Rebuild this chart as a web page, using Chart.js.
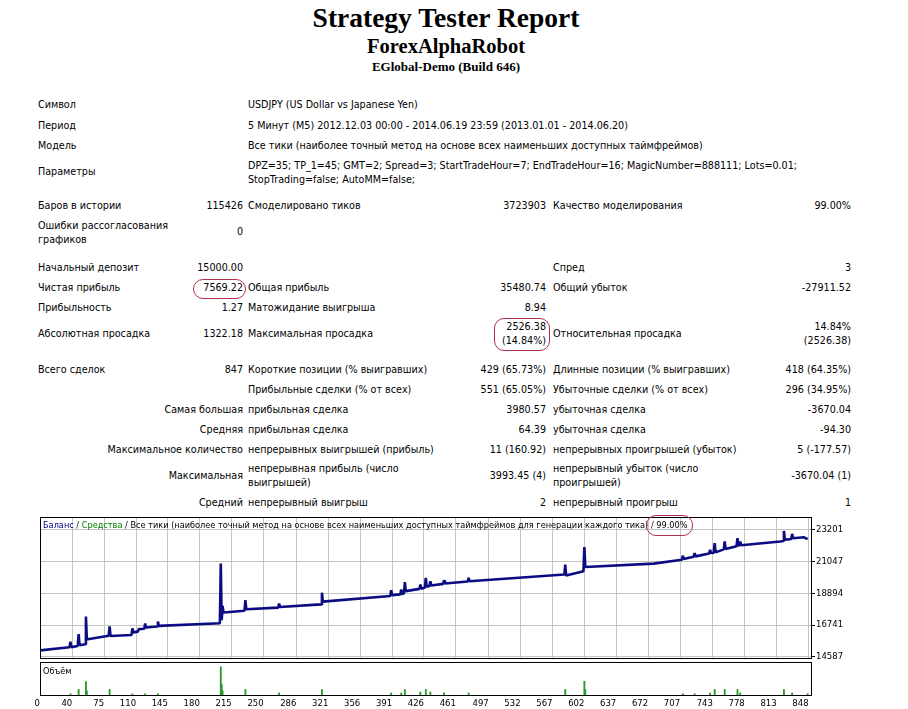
<!DOCTYPE html>
<html>
<head>
<meta charset="utf-8">
<title>Strategy Tester Report</title>
<script src="https://cdn.jsdelivr.net/npm/chart.js@4.4.0/dist/chart.umd.min.js"></script>
<style>
  html, body { margin: 0; padding: 0; background: #fff; overflow: hidden; }
  #page { position: relative; width: 908px; height: 709px; font-family: "DejaVu Sans", sans-serif; font-size: 9.6px; color: #000; }
  .hd { position: absolute; left: 0; width: 892px; text-align: center; font-family: "Liberation Serif", serif; font-weight: bold; white-space: nowrap; }
  .c { position: absolute; line-height: 14px; white-space: nowrap; }
  .l1 { left: 38px; }
  .r2 { right: 665px; text-align: right; }
  .l3 { left: 248px; }
  .r4 { right: 362px; text-align: right; }
  .l5 { left: 553px; }
  .r6 { right: 57px; text-align: right; }
  .oval { position: absolute; border: 1px solid #b0304a; border-radius: 10px; z-index: 5; }
  .wrap { position: absolute; left: 0; width: 908px; }
  #caption { position: absolute; left: 43px; top: 519px; font-size: 8.2px; line-height: 12px; white-space: nowrap; z-index: 4; }
  #volLabel { position: absolute; left: 43px; top: 665px; font-size: 8.2px; line-height: 12px; z-index: 4; }
</style>
</head>
<body>
<div id="page">
  <div class="hd" style="top:1px;font-size:27.5px;line-height:34px">Strategy Tester Report</div>
  <div class="hd" style="top:34px;font-size:20.5px;line-height:24px">ForexAlphaRobot</div>
  <div class="hd" style="top:59px;font-size:13px;line-height:16px">EGlobal-Demo (Build 646)</div>

  <div class="c l1" style="top:98px">Символ</div>
  <div class="c l3" style="top:98px">USDJPY (US Dollar vs Japanese Yen)</div>
  <div class="c l1" style="top:119px">Период</div>
  <div class="c l3" style="top:119px">5 Минут (M5) 2012.12.03 00:00 - 2014.06.19 23:59 (2013.01.01 - 2014.06.20)</div>
  <div class="c l1" style="top:139px">Модель</div>
  <div class="c l3" style="top:139px">Все тики (наиболее точный метод на основе всех наименьших доступных таймфреймов)</div>
  <div class="c l1" style="top:165px">Параметры</div>
  <div class="c l3" style="top:159px">DPZ=35; TP_1=45; GMT=2; Spread=3; StartTradeHour=7; EndTradeHour=16; MagicNumber=888111; Lots=0.01;<br>StopTrading=false; AutoMM=false;</div>

  <div class="c l1" style="top:199px">Баров в истории</div>
  <div class="c r2" style="top:199px">115426</div>
  <div class="c l3" style="top:199px">Смоделировано тиков</div>
  <div class="c r4" style="top:199px">3723903</div>
  <div class="c l5" style="top:199px">Качество моделирования</div>
  <div class="c r6" style="top:199px">99.00%</div>

  <div class="c l1" style="top:219px">Ошибки рассогласования<br>графиков</div>
  <div class="c r2" style="top:225px">0</div>

  <div class="c l1" style="top:261px">Начальный депозит</div>
  <div class="c r2" style="top:261px">15000.00</div>
  <div class="c l5" style="top:261px">Спред</div>
  <div class="c r6" style="top:261px">3</div>

  <div class="c l1" style="top:281px">Чистая прибыль</div>
  <div class="c r2" style="top:281px">7569.22</div>
  <div class="c l3" style="top:281px">Общая прибыль</div>
  <div class="c r4" style="top:281px">35480.74</div>
  <div class="c l5" style="top:281px">Общий убыток</div>
  <div class="c r6" style="top:281px">-27911.52</div>

  <div class="c l1" style="top:301px">Прибыльность</div>
  <div class="c r2" style="top:301px">1.27</div>
  <div class="c l3" style="top:301px">Матожидание выигрыша</div>
  <div class="c r4" style="top:301px">8.94</div>

  <div class="c l1" style="top:327px">Абсолютная просадка</div>
  <div class="c r2" style="top:327px">1322.18</div>
  <div class="c l3" style="top:327px">Максимальная просадка</div>
  <div class="c r4" style="top:320px">2526.38<br>(14.84%)</div>
  <div class="c l5" style="top:327px">Относительная просадка</div>
  <div class="c r6" style="top:320px">14.84%<br>(2526.38)</div>

  <div class="c l1" style="top:363px">Всего сделок</div>
  <div class="c r2" style="top:363px">847</div>
  <div class="c l3" style="top:363px">Короткие позиции (% выигравших)</div>
  <div class="c r4" style="top:363px">429 (65.73%)</div>
  <div class="c l5" style="top:363px">Длинные позиции (% выигравших)</div>
  <div class="c r6" style="top:363px">418 (64.35%)</div>

  <div class="c l3" style="top:383px">Прибыльные сделки (% от всех)</div>
  <div class="c r4" style="top:383px">551 (65.05%)</div>
  <div class="c l5" style="top:383px">Убыточные сделки (% от всех)</div>
  <div class="c r6" style="top:383px">296 (34.95%)</div>

  <div class="c r2" style="top:403px">Самая большая</div>
  <div class="c l3" style="top:403px">прибыльная сделка</div>
  <div class="c r4" style="top:403px">3980.57</div>
  <div class="c l5" style="top:403px">убыточная сделка</div>
  <div class="c r6" style="top:403px">-3670.04</div>

  <div class="c r2" style="top:423px">Средняя</div>
  <div class="c l3" style="top:423px">прибыльная сделка</div>
  <div class="c r4" style="top:423px">64.39</div>
  <div class="c l5" style="top:423px">убыточная сделка</div>
  <div class="c r6" style="top:423px">-94.30</div>

  <div class="c r2" style="top:443px">Максимальное количество</div>
  <div class="c l3" style="top:443px">непрерывных выигрышей (прибыль)</div>
  <div class="c r4" style="top:443px">11 (160.92)</div>
  <div class="c l5" style="top:443px">непрерывных проигрышей (убыток)</div>
  <div class="c r6" style="top:443px">5 (-177.57)</div>

  <div class="c r2" style="top:469px">Максимальная</div>
  <div class="c l3" style="top:462px">непрерывная прибыль (число<br>выигрышей)</div>
  <div class="c r4" style="top:469px">3993.45 (4)</div>
  <div class="c l5" style="top:462px">непрерывный убыток (число<br>проигрышей)</div>
  <div class="c r6" style="top:469px">-3670.04 (1)</div>

  <div class="c r2" style="top:496px">Средний</div>
  <div class="c l3" style="top:496px">непрерывный выигрыш</div>
  <div class="c r4" style="top:496px">2</div>
  <div class="c l5" style="top:496px">непрерывный проигрыш</div>
  <div class="c r6" style="top:496px">1</div>

  <div class="oval" style="left:193px;top:279px;width:51px;height:18px"></div>
  <div class="oval" style="left:494px;top:318px;width:54px;height:31px"></div>

  <div class="wrap" style="top:505px;height:160px"><canvas id="balanceChart"></canvas></div>
  <div class="wrap" style="top:660px;height:49px"><canvas id="volumeChart"></canvas></div>

  <div id="caption"><span style="color:#000080">Баланс</span> / <span style="color:#008000">Средства</span> / Все тики (наиболее точный метод на основе всех наименьших доступных таймфреймов для генерации каждого тика) / 99.00%</div>
  <div class="oval" style="left:646px;top:515px;width:45px;height:19px"></div>
  <div id="volLabel">Объём</div>
</div>

<script>
// balance after each trade
var tradeNo = [0, 37, 38, 39, 46, 47, 48, 54, 55, 56, 57, 80, 81, 82, 105, 106, 107, 112, 113, 119, 120, 121,
  133, 134, 135, 202, 203, 204, 205, 206, 229, 230, 231, 266, 267, 268, 313, 314, 315, 389, 390, 391,
  400, 401, 402, 404, 405, 406, 421, 422, 423, 427, 428, 429, 432, 433, 434, 447, 448, 449, 474, 475, 476,
  553, 580, 581, 582, 601, 602, 603, 678, 709, 710, 711, 722, 723, 724, 739, 740, 741, 744, 745, 746,
  755, 756, 757, 769, 770, 771, 772, 773, 774, 817, 820, 821, 822, 829, 830, 831, 843, 847];
var balance = [15000, 15240, 15617, 15250, 15330, 16135, 15380, 15450, 17326, 15800, 15780, 16020, 16652, 16000,
  16070, 16520, 16250, 16300, 16470, 16500, 16855, 16585, 16650, 16990, 16694, 16875, 20913, 17077, 18040, 17595,
  17720, 18445, 17817, 17930, 18200, 17970, 18150, 18940, 18336, 18713, 19117, 18780, 18827, 19163, 18840,
  18900, 19655, 19050, 19200, 19500, 19210, 19300, 19950, 19345, 19400, 19720, 19430, 19540, 19790, 19567,
  19700, 19950, 19720, 20060, 20173, 20846, 20105, 20395, 22037, 20690, 20913, 21182, 21450, 21230, 21380,
  21630, 21405, 21600, 21855, 21630, 21650, 22305, 21675, 21880, 22415, 21900, 22100, 22640, 22125, 22150,
  22415, 22160, 22415, 22450, 23134, 22528, 22580, 22932, 22640, 22700, 22569];

// volume bars
var volTrade = [38, 47, 55, 56, 81, 106, 120, 134, 203, 204, 205, 230, 267, 314, 390, 401, 405, 422, 428, 433,
  448, 475, 581, 602, 603, 710, 723, 740, 745, 756, 770, 773, 821, 830, 847];
var volume = [0.5, 1.5, 3.3, 1.2, 1.5, 0.5, 0.5, 0.5, 6.7, 2.7, 1.2, 1.5, 0.7, 1.5, 0.7, 0.7, 1.5, 0.9, 1.5, 0.9,
  0.7, 0.7, 1.5, 3.4, 1.5, 0.5, 0.5, 0.7, 1.5, 1.5, 1.5, 0.7, 1.5, 0.7, 0.5];

var yTickValues = [14587, 16741, 18894, 21047, 23201];
var xTickLabels = ['0', '40', '75', '110', '145', '180', '215', '250', '286', '321', '356', '391', '426',
  '461', '497', '532', '567', '602', '637', '672', '707', '743', '778', '813', '848'];

var X_MIN = 4.6, X_MAX = 851.8;
var Y_MIN = 14452, Y_MAX = 24076;
var chartFont = { family: 'DejaVu Sans', size: 8.5 };

// black box round the plot area, like the tester window
var frame = {
  id: 'frame',
  afterDraw: function (chart) {
    var a = chart.chartArea, c = chart.ctx;
    c.save();
    c.strokeStyle = '#000';
    c.lineWidth = 1;
    c.strokeRect(Math.round(a.left) + 0.5, Math.round(a.top) + 0.5,
      Math.round(a.right - a.left) - 1, Math.round(a.bottom - a.top) - 1);
    c.restore();
  }
};

function xTicks(axis) {
  axis.ticks = xTickLabels.map(function (l) {
    return { value: Math.max(Number(l), X_MIN), label: l };
  });
}

var balancePts = tradeNo.map(function (t, i) { return { x: t, y: balance[i] }; });
var volumePts = volTrade.map(function (t, i) { return { x: t, y: volume[i] }; });

new Chart(document.getElementById('balanceChart'), {
  type: 'line',
  data: {
    datasets: [{
      label: 'Баланс',
      data: balancePts,
      borderColor: '#0c0c82',
      borderWidth: 2.6,
      borderJoinStyle: 'bevel',
      pointRadius: 0,
      tension: 0,
      fill: false
    }]
  },
  options: {
    responsive: true,
    maintainAspectRatio: false,
    animation: false,
    layout: { padding: { left: 40, top: 12, bottom: 5, right: 0 } },
    plugins: { legend: { display: false }, tooltip: { enabled: false } },
    scales: {
      x: {
        type: 'linear',
        min: X_MIN,
        max: X_MAX,
        offset: false,
        afterBuildTicks: xTicks,
        afterFit: function (s) { s.height = 0; },
        ticks: { display: false },
        border: { display: false },
        grid: { color: '#c4c4c4', borderDash: [3, 3], drawTicks: false,
          lineWidth: function (ctx) { return ctx.index === 0 ? 0 : 1; } }
      },
      y: {
        position: 'right',
        min: Y_MIN,
        max: Y_MAX,
        afterBuildTicks: function (axis) {
          axis.ticks = yTickValues.map(function (v) { return { value: v }; });
        },
        afterFit: function (s) { s.width = 96; },
        ticks: { color: '#000', font: chartFont, padding: 1, callback: function (v) { return String(v); } },
        border: { display: false },
        grid: { color: '#c4c4c4', borderDash: [3, 3], tickLength: 3, tickColor: '#000' }
      }
    }
  },
  plugins: [frame]
});

new Chart(document.getElementById('volumeChart'), {
  type: 'bar',
  data: {
    datasets: [{
      label: 'Объём',
      data: volumePts,
      backgroundColor: '#2a9a2a',
      barThickness: 1.2,
      borderWidth: 0
    }]
  },
  options: {
    responsive: true,
    maintainAspectRatio: false,
    animation: false,
    layout: { padding: { left: 40, top: 2, bottom: 0, right: 96 } },
    plugins: { legend: { display: false }, tooltip: { enabled: false } },
    scales: {
      x: {
        type: 'linear',
        min: X_MIN,
        max: X_MAX,
        offset: false,
        afterBuildTicks: xTicks,
        afterFit: function (s) { s.height = 13; },
        ticks: {
          color: '#000', font: chartFont, padding: 3, align: 'end', autoSkip: false, maxRotation: 0,
          callback: function (v, i) { return xTickLabels[i]; }
        },
        border: { display: false },
        grid: { display: false, drawTicks: false, offset: false }
      },
      y: { display: false, min: 0, max: 7.8 }
    }
  },
  plugins: [frame]
});
</script>
</body>
</html>
